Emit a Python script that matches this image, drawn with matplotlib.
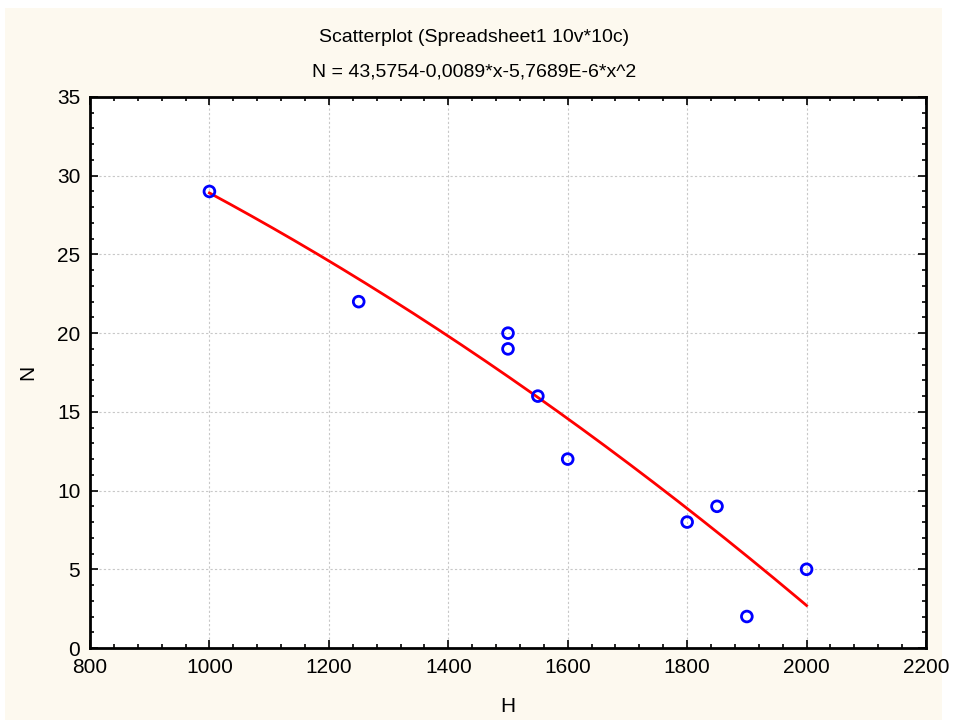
import numpy as np
import matplotlib
matplotlib.use("Agg")
import matplotlib.pyplot as plt
from matplotlib.ticker import MultipleLocator
from matplotlib.patches import Rectangle

# Data
H = [1000, 1250, 1500, 1500, 1550, 1600, 1800, 1850, 1900, 2000]
N = [29, 22, 20, 19, 16, 12, 8, 9, 2, 5]
# Fit coefficients from the title equation
b0, b1, b2 = 43.5754, -0.0089, -5.7689e-6
title1 = "Scatterplot (Spreadsheet1 10v*10c)"
title2 = "N = 43,5754-0,0089*x-5,7689E-6*x^2"

plt.rcParams['font.family'] = ['Liberation Sans', 'DejaVu Sans']

W, Hh = 962, 727
fig = plt.figure(figsize=(W / 100, Hh / 100), dpi=100, facecolor='white')
bg = Rectangle((5 / W, 7 / Hh), 937 / W, 712 / Hh,
               transform=fig.transFigure, facecolor='#fdf9ef',
               edgecolor='none', zorder=-10)
fig.patches.append(bg)

ax = fig.add_axes([90 / W, 1 - 648 / Hh, (926 - 90) / W, (648 - 97) / Hh])
ax.set_zorder(1)
ax.set_facecolor('white')

xs = np.linspace(min(H), max(H), 200)
ax.plot(xs, b0 + b1 * xs + b2 * xs ** 2, color='#ff0000', lw=2, zorder=3)
ax.scatter(H, N, s=60, facecolors='none', edgecolors='#0000ff', linewidths=2, zorder=4)

ax.set_xlim(800, 2200)
ax.set_ylim(0, 35)
ax.xaxis.set_major_locator(MultipleLocator(200))
ax.xaxis.set_minor_locator(MultipleLocator(40))
ax.yaxis.set_major_locator(MultipleLocator(5))
ax.yaxis.set_minor_locator(MultipleLocator(1))
ax.tick_params(which='both', direction='in', top=True, right=True, color='black',
               labelsize=15, pad=7)
ax.tick_params(which='major', length=6, width=1.2)
ax.tick_params(which='minor', length=3, width=1.2)
ax.grid(True, which='major', color='#c8c8c8', linestyle=(0, (2, 2)), linewidth=0.8)
for s in ax.spines.values():
    s.set_linewidth(2)
    s.set_color('black')

ax.set_xlabel("H", fontsize=15)
ax.set_ylabel("N", fontsize=15)
ax.xaxis.set_label_coords((508 - 90) / 836, (648 - 707) / 551)
ax.yaxis.set_label_coords((28 - 90) / 836, (648 - 372) / 551)
ax.xaxis.label.set_va('center')
ax.yaxis.label.set_va('center')

fig.text(474 / W, 1 - 38 / Hh, title1, ha='center', va='center', fontsize=14)
fig.text(474 / W, 1 - 72 / Hh, title2, ha='center', va='center', fontsize=14)

fig.savefig("out.png", dpi=100, facecolor=fig.get_facecolor())
